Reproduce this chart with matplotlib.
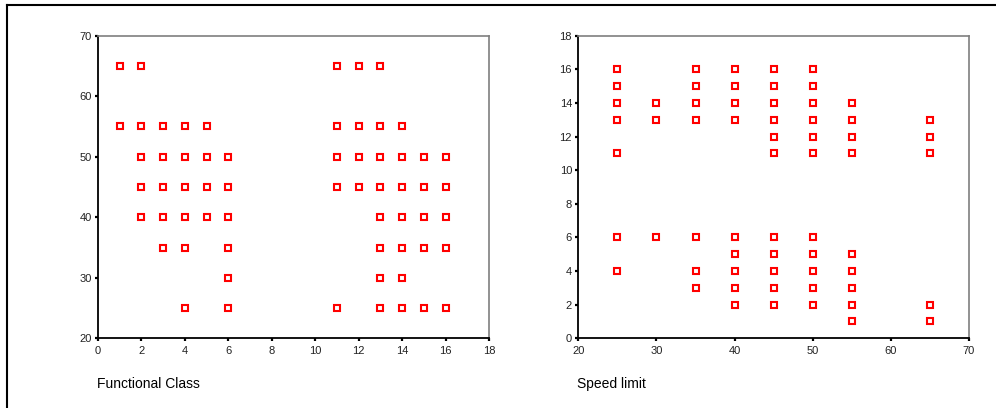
import matplotlib.pyplot as plt
from matplotlib.lines import Line2D

plt.rcParams['font.family'] = ['Liberation Sans', 'DejaVu Sans']

# functional class / speed limit pairs
speed_rows = [65, 55, 50, 45, 40, 35, 30, 25]
class_rows = [
    [1, 2, 11, 12, 13],
    [1, 2, 3, 4, 5, 11, 12, 13, 14],
    [2, 3, 4, 5, 6, 11, 12, 13, 14, 15, 16],
    [2, 3, 4, 5, 6, 11, 12, 13, 14, 15, 16],
    [2, 3, 4, 5, 6, 13, 14, 15, 16],
    [3, 4, 6, 13, 14, 15, 16],
    [6, 13, 14],
    [4, 6, 11, 13, 14, 15, 16],
]

func_class = []
speed = []
for s, cls in zip(speed_rows, class_rows):
    for c in cls:
        func_class.append(c)
        speed.append(s)

fig = plt.figure(figsize=(9.96, 4.08), dpi=100)

# outer frame (top and left edges visible)
fig.add_artist(Line2D([7 / 996, 1.0], [1 - 5 / 408, 1 - 5 / 408], color='black', lw=1.5))
fig.add_artist(Line2D([7 / 996, 7 / 996], [0, 1 - 5 / 408], color='black', lw=1.5))

ax1 = fig.add_axes([98 / 996, 1 - 338.3 / 408, 391 / 996, 302.6 / 408])
ax2 = fig.add_axes([578.3 / 996, 1 - 338.3 / 408, 390.7 / 996, 302.6 / 408])


def style(ax):
    for side in ['left', 'bottom']:
        ax.spines[side].set_color('black')
        ax.spines[side].set_linewidth(1.3)
    for side in ['top', 'right']:
        ax.spines[side].set_color('#7f7f7f')
        ax.spines[side].set_linewidth(1.2)
    ax.tick_params(direction='out', length=2.5, width=1.6, color='black',
                   labelsize=8, labelcolor='#222222')
    ax.tick_params(axis='x', pad=3)
    ax.tick_params(axis='y', pad=2)


ax1.plot(func_class, speed, 's', ms=4.2, mfc='white', mec='#ff0000', mew=1.5, clip_on=False)
ax1.set_xlim(0, 18)
ax1.set_ylim(20, 70)
ax1.set_xticks(range(0, 19, 2))
ax1.set_yticks(range(20, 71, 10))
style(ax1)

ax2.plot(speed, func_class, 's', ms=4.2, mfc='white', mec='#ff0000', mew=1.5, clip_on=False)
ax2.set_xlim(20, 70)
ax2.set_ylim(0, 18)
ax2.set_xticks(range(20, 71, 10))
ax2.set_yticks(range(0, 19, 2))
style(ax2)

fig.text(97 / 996, 1 - 388 / 408, 'Functional Class', fontsize=10, va='baseline', ha='left')
fig.text(577 / 996, 1 - 388 / 408, 'Speed limit', fontsize=10, va='baseline', ha='left')

fig.savefig('out.png', dpi=100)
